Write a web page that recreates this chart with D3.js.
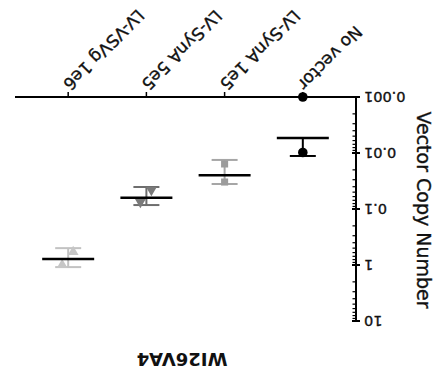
<!DOCTYPE html>
<html><head><meta charset="utf-8">
<script src="https://cdn.jsdelivr.net/npm/d3@7"></script>
<style>body{margin:0;background:#fff}svg{display:block}text{font-family:"DejaVu Sans",Verdana,sans-serif;fill:#111;stroke:#111;stroke-width:0.35px}</style>
</head><body>
<svg id="c" width="438" height="383"></svg>
<script>
const title = "WI26VA4";
const yTitle = "Vector Copy Number";
const categories = ["No vector", "LV-SynA 1e5", "LV-SynA 5e5", "LV-VSVg 1e6"];
const points = [[0.001, 0.0098], [0.0157, 0.033], [0.0458, 0.075], [0.586, 1.0]];
const means = [0.0054, 0.025, 0.063, 0.78];
const errLow = [null, 0.0133, 0.0405, 0.50];
const errHigh = [0.0113, 0.0358, 0.085, 1.09];
const yTicks = [0.001, 0.01, 0.1, 1, 10];
const yTickLabels = ["0.001", "0.01", "0.1", "1", "10"];

const symbols = [d3.symbolCircle, d3.symbolSquare, d3.symbolTriangle, d3.symbolTriangle];
const symRot = [0, 0, 0, 180];
const symSize = [72, 50, 50, 50];
const ptColor = ["#000", "#9c9c9c", "#7a7a7a", "#c6c6c6"];
const capColor = ["#000", "#a6a6a6", "#6e6e6e", "#c2c2c2"];

const W = 438, H = 383;
const svg = d3.select("#c");
// whole figure is shown rotated 180 degrees
const g = svg.append("g").attr("transform", `rotate(180, ${W/2}, ${H/2})`);

const x0 = 82, x1 = 423, yBot = 286, yTop = 62;
const x = d3.scalePoint().domain(categories).range([x0, x1]).padding(0.68);
const y = d3.scaleLog().domain([0.001, 10]).range([yBot, yTop]);

// Y axis
g.append("line").attr("x1", x0).attr("x2", x0).attr("y1", yBot).attr("y2", yTop)
  .attr("stroke", "#000").attr("stroke-width", 2);
const minor = [];
for (let e = -3; e < 1; e++) for (let m = 2; m <= 9; m++) minor.push(m * Math.pow(10, e));
g.selectAll(".minor").data(minor).join("line")
  .attr("x1", x0).attr("x2", x0 + 3.5).attr("y1", d => y(d)).attr("y2", d => y(d))
  .attr("stroke", "#000").attr("stroke-width", 1.2);
g.selectAll(".major").data(yTicks).join("line")
  .attr("x1", x0 - 4).attr("x2", x0 + 4).attr("y1", d => y(d)).attr("y2", d => y(d))
  .attr("stroke", "#000").attr("stroke-width", 2);
g.selectAll(".ylab").data(yTicks).join("text")
  .attr("x", x0 - 8).attr("y", d => y(d)).attr("dy", "0.36em")
  .attr("text-anchor", "end").attr("font-size", 14.5)
  .text((d, i) => yTickLabels[i]);
g.append("text").attr("transform", `translate(21, ${(yBot + yTop) / 2 - 1}) rotate(-90)`)
  .attr("text-anchor", "middle").attr("font-size", 19).text(yTitle);

// X axis
g.append("line").attr("x1", x0).attr("x2", x1).attr("y1", yBot).attr("y2", yBot)
  .attr("stroke", "#000").attr("stroke-width", 2.2);
g.selectAll(".xt").data(categories).join("line")
  .attr("x1", d => x(d)).attr("x2", d => x(d)).attr("y1", yBot).attr("y2", yBot + 5)
  .attr("stroke", "#000").attr("stroke-width", 1.5);
g.selectAll(".xlab").data(categories).join("text")
  .attr("transform", d => `translate(${x(d) + 6}, ${yBot + 14}) rotate(-45)`)
  .attr("text-anchor", "end").attr("font-size", 17).text(d => d);

// Title
g.append("text").attr("x", 256).attr("y", 30).attr("text-anchor", "middle")
  .attr("font-size", 18).attr("font-weight", "bold").style("stroke-width", 0).text(title);

// Error bars and means
categories.forEach((c, i) => {
  const cx = x(c), my = y(means[i]);
  const ends = [errLow[i], errHigh[i]].filter(v => v !== null);
  ends.forEach(v => {
    g.append("line").attr("x1", cx).attr("x2", cx).attr("y1", my).attr("y2", y(v))
      .attr("stroke", capColor[i]).attr("stroke-width", 2);
    g.append("line").attr("x1", cx - 13).attr("x2", cx + 13).attr("y1", y(v)).attr("y2", y(v))
      .attr("stroke", capColor[i]).attr("stroke-width", 2);
  });
});

// Points
categories.forEach((c, i) => {
  const pts = points[i];
  pts.forEach((v, j) => {
    let off = 0;
    if (pts.length === 2 && Math.abs(y(pts[0]) - y(pts[1])) < 14) off = j === 0 ? -5 : 6;
    g.append("path").attr("d", d3.symbol().type(symbols[i]).size(symSize[i])())
      .attr("transform", `translate(${x(c) + off}, ${y(v)}) rotate(${symRot[i]})`)
      .attr("fill", ptColor[i]);
  });
});

// Mean lines on top
categories.forEach((c, i) => {
  const cx = x(c), my = y(means[i]);
  g.append("line").attr("x1", cx - 26).attr("x2", cx + 26).attr("y1", my).attr("y2", my)
    .attr("stroke", "#000").attr("stroke-width", 2.5);
});
</script>
</body></html>
